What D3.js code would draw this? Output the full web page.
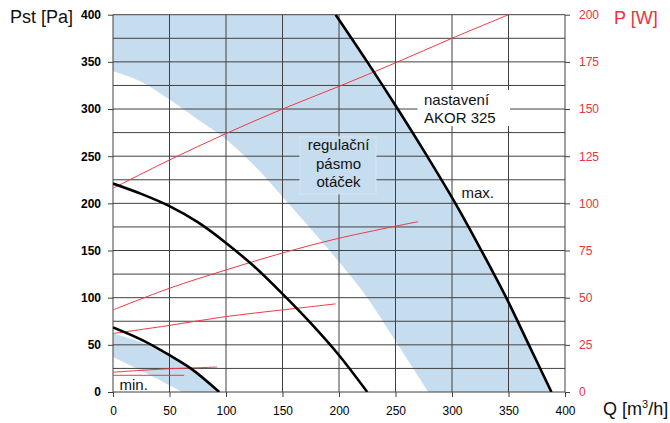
<!DOCTYPE html>
<html><head><meta charset="utf-8">
<script src="https://cdn.jsdelivr.net/npm/d3@7"></script>
<style>
body{margin:0;background:#fff;}
svg{display:block;font-family:"Liberation Sans",Arial,Helvetica,sans-serif;}
</style></head><body>
<svg id="c" width="670" height="423"></svg>
<script>
// ---- data ----
const qTicks = [0,50,100,150,200,250,300,350,400];
const pstTicks = [0,50,100,150,200,250,300,350,400];
const pTicks = [0,25,50,75,100,125,150,175,200];
const gridPst = d3.range(0,401,25);

// black fan curves (Q [m3/h], Pst [Pa])
const maxQ   = [197,225,252,278,303,326,348,368,388];
const maxPst = [400,350,300,250,200,150,100,50,0];
const midQ   = [0,25,50,75,100,125,150,175,200,225];
const midPst = [221,210,197,180,158,133,104,73,39,0];
const minQ   = [0,25,50,70,94];
const minPst = [68.5,55.5,39,24,0];

// regulation band boundaries
const innerQ   = [0,25,50,75,100,125,150,175,200,225,250,279];
const innerPst = [340,329,310,289,268,240,207,173,138,100,54,0];
const lowTopQ   = [0,25,50,70,93];
const lowTopPst = [62,52.5,38,23.5,0];
const lowBotQ   = [0,30,61];
const lowBotPst = [37,19.5,0];

// power curves (Q, P [W])
const p1Q = [0,50,100,150,200,250,300,350];
const p1P = [108,123,137,150,162,174.5,187.5,200];
const p2Q = [0,50,100,150,200,270];
const p2P = [43.5,55,64.7,73.7,81.5,90.3];
const p3Q = [0,50,100,150,197];
const p3P = [31,35.3,40,43.5,46.7];
const p4Q = [0,46,92];
const p4P = [10.5,12.2,13.2];
const p5Q = [0,63];
const p5P = [8.85,8.85];

// ---- drawing ----
const svg = d3.select("#c");
const L=113,R=565,T=14.7,B=392;
const x = d3.scaleLinear([0,400],[L,R]);
const y = d3.scaleLinear([0,400],[B,T]);
const yR = d3.scaleLinear([0,200],[B,T]);
const blue = "#c6dcef", red = "#e8343d", grid = "#404040";
const zip = (a,b)=>a.map((v,i)=>[v,b[i]]);

const lineP = d3.line().x(d=>x(d[0])).y(d=>y(d[1])).curve(d3.curveCatmullRom.alpha(0.5));
const lineW = d3.line().x(d=>x(d[0])).y(d=>yR(d[1])).curve(d3.curveCatmullRom.alpha(0.5));

svg.append("defs").append("clipPath").attr("id","pc")
  .append("rect").attr("x",L).attr("y",T).attr("width",R-L).attr("height",B-T);

// upper band
const inner = zip(innerQ,innerPst);
const maxRev = zip(maxQ,maxPst).reverse();
const bandD = `M${x(0)},${y(400)}L${x(0)},${y(340)}` +
  lineP(inner).replace(/^M/,"L") + lineP(maxRev).replace(/^M/,"L") + "Z";
svg.append("path").attr("d",bandD).attr("fill",blue).attr("clip-path","url(#pc)");
// lower band
const lowD = lineP(zip(lowTopQ,lowTopPst)) + lineP(zip(lowBotQ,lowBotPst).reverse()).replace(/^M/,"L") + "Z";
svg.append("path").attr("d",lowD).attr("fill",blue).attr("clip-path","url(#pc)");

// grid
const g = svg.append("g").attr("stroke",grid).attr("stroke-width",1);
g.selectAll(".h").data(gridPst).join("line")
  .attr("x1",L).attr("x2",R).attr("y1",d=>y(d)).attr("y2",d=>y(d));
g.selectAll(".v").data(qTicks).join("line").attr("class","v")
  .attr("x1",d=>x(d)).attr("x2",d=>x(d)).attr("y1",T).attr("y2",B);

// axes
const axStyle = sel=>{
  sel.select(".domain").remove();
  sel.selectAll(".tick line").attr("stroke",grid).attr("stroke-width",1);
  sel.selectAll("text").attr("font-family","Liberation Sans, Arial, sans-serif").attr("font-size",12);
};
svg.append("g").attr("transform",`translate(${L},0)`)
  .call(d3.axisLeft(y).tickValues(pstTicks).tickSize(5).tickPadding(7))
  .call(axStyle).call(s=>s.selectAll("text").attr("fill","#000").attr("font-weight","bold"));
svg.append("g").attr("transform",`translate(${R},0)`)
  .call(d3.axisRight(yR).tickValues(pTicks).tickSize(5).tickPadding(9))
  .call(axStyle).call(s=>s.selectAll("text").attr("fill",red));
svg.append("g").attr("transform",`translate(0,${B})`)
  .call(d3.axisBottom(x).tickValues(qTicks).tickSize(5).tickPadding(9))
  .call(axStyle).call(s=>s.selectAll("text").attr("fill","#000"));

// power lines
const pw = svg.append("g").attr("fill","none").attr("stroke","#ef3b45").attr("stroke-width",1);
[[p1Q,p1P],[p2Q,p2P],[p3Q,p3P],[p4Q,p4P],[p5Q,p5P]].forEach(([q,p])=>{
  pw.append("path").attr("d",lineW(zip(q,p)));
});

// fan curves
const fc = svg.append("g").attr("fill","none").attr("stroke","#000").attr("stroke-width",2.6).attr("clip-path","url(#pc)");
[[maxQ,maxPst],[midQ,midPst],[minQ,minPst]].forEach(([q,p])=>{
  fc.append("path").attr("d",lineP(zip(q,p)));
});

// label boxes
svg.append("rect").attr("x",417.5).attr("y",90).attr("width",92.5).attr("height",36).attr("fill","#fff");
svg.append("rect").attr("x",300).attr("y",137).attr("width",76).attr("height",57)
  .attr("fill",blue).attr("stroke","#dbe8f5").attr("stroke-width",0.8);

const txt = (t,xx,yy,opt={})=>svg.append("text").attr("x",xx).attr("y",yy).text(t)
  .attr("font-size",opt.size||15).attr("fill",opt.fill||"#111").attr("text-anchor",opt.anchor||"start");
txt("nastavení",424,105);
txt("AKOR 325",424,122.5);
txt("regulační",338.5,149.5,{anchor:"middle"});
txt("pásmo",338.5,168.5,{anchor:"middle"});
txt("otáček",338.5,187,{anchor:"middle"});
txt("max.",461.5,198);
txt("min.",119.5,389.5);

// axis titles
txt("Pst [Pa]",10,23,{size:18,fill:"#111"});
txt("P [W]",614,24,{size:18,fill:red});
const qt = svg.append("text").attr("x",603).attr("y",415).attr("font-size",18).attr("fill","#111");
qt.append("tspan").text("Q [m");
qt.append("tspan").text("3").attr("font-size",11).attr("dy",-7);
qt.append("tspan").text("/h]").attr("dy",7);
</script>
</body></html>
